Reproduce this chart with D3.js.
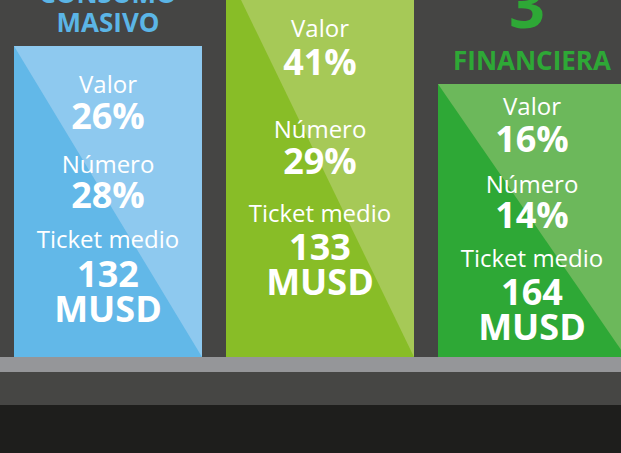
<!DOCTYPE html>
<html>
<head>
<meta charset="utf-8">
<script src="https://cdn.jsdelivr.net/npm/d3@7"></script>
<style>
  html, body { margin: 0; padding: 0; background: #454544; overflow: hidden; }
  svg { display: block; }
  text { font-family: "Open Sans", sans-serif; }
</style>
</head>
<body>
<svg id="chart" width="621" height="453"></svg>
<script>
// ---- data ----
const categories = ["Consumo masivo", "Sector 1", "Financiera"];
const podiumRank = [2, 1, 3];
const headerLines = [["CONSUMO", "MASIVO"], [], ["FINANCIERA"]];
const rankLabels = ["", "", "3"];
const valorPct = [26, 41, 16];
const numeroPct = [28, 29, 14];
const ticketMusd = [132, 133, 164];
const metricLabels = ["Valor", "Número", "Ticket medio"];
const unitLabel = "MUSD";

// ---- styles / layout ----
const W = 621, H = 453;
const colors = [
  { light: "#8ec9ef", dark: "#62b8e8", head: "#5bb5e6" },
  { light: "#a6c957", dark: "#88bd27", head: "#88bd27" },
  { light: "#6cb85b", dark: "#2ea836", head: "#2ea836" }
];
const floorY = 357;
// baseline offsets of the text rows, per bar (valor label, valor, numero label, numero, ticket label, ticket, unit)
const rowY = [
  [93, 129, 173, 208, 248, 287, 322],
  [37, 75, 138, 174, 222, 260, 295],
  [115, 152, 193, 228, 267, 305, 340]
];

const svg = d3.select("#chart");

const x = d3.scaleBand()
  .domain(categories)
  .range([14, 626])
  .paddingInner(24 / 212)
  .paddingOuter(0);

const topY = d3.scaleOrdinal().domain([1, 2, 3]).range([-31, 46, 84]);

const data = categories.map((c, i) => ({
  cat: c, rank: podiumRank[i], valor: valorPct[i], numero: numeroPct[i],
  ticket: ticketMusd[i], col: colors[i], rows: rowY[i], head: headerLines[i], rankLabel: rankLabels[i]
}));

// background bands
svg.append("rect").attr("x", 0).attr("y", 0).attr("width", W).attr("height", H).attr("fill", "#454544");
svg.append("rect").attr("x", 0).attr("y", floorY).attr("width", W).attr("height", 15).attr("fill", "#959699");
svg.append("rect").attr("x", 0).attr("y", floorY + 15).attr("width", W).attr("height", 33).attr("fill", "#464644");
svg.append("rect").attr("x", 0).attr("y", floorY + 48).attr("width", W).attr("height", H - floorY - 48).attr("fill", "#1e1e1c");

const g = svg.selectAll("g.bar").data(data).enter().append("g").attr("class", "bar");

// light bar
g.append("rect")
  .attr("x", d => x(d.cat))
  .attr("y", d => topY(d.rank))
  .attr("width", x.bandwidth())
  .attr("height", d => floorY - topY(d.rank))
  .attr("fill", d => d.col.light);

// dark triangle (lower-left)
g.append("path")
  .attr("d", d => {
    const x0 = x(d.cat), x1 = x0 + x.bandwidth(), t = topY(d.rank);
    return `M${x0},${t}L${x1},${floorY}L${x0},${floorY}Z`;
  })
  .attr("fill", d => d.col.dark);

const cx = d => x(d.cat) + x.bandwidth() / 2;

// headers
g.each(function(d) {
  const sel = d3.select(this);
  const t = topY(d.rank);
  if (d.rankLabel) {
    sel.append("text").attr("x", cx(d) - 5).attr("y", 28)
      .attr("text-anchor", "middle").attr("font-weight", 700).attr("font-size", 63)
      .attr("fill", d.col.head).text(d.rankLabel);
  }
  const n = d.head.length;
  d.head.forEach((line, k) => {
    sel.append("text").attr("x", cx(d)).attr("y", t - 14 - (n - 1 - k) * 29)
      .attr("text-anchor", "middle").attr("font-weight", 700).attr("font-size", 26)
      .attr("fill", d.col.head).text(line);
  });
});

// metric texts
const rows = d => [
  { t: metricLabels[0], b: false },
  { t: d.valor + "%", b: true },
  { t: metricLabels[1], b: false },
  { t: d.numero + "%", b: true },
  { t: metricLabels[2], b: false },
  { t: String(d.ticket), b: true },
  { t: unitLabel, b: true }
];

g.selectAll("text.m")
  .data(d => rows(d).map((r, k) => ({ ...r, x: cx(d), y: d.rows[k] })))
  .enter().append("text")
  .attr("class", "m")
  .attr("x", r => r.x)
  .attr("y", r => r.y)
  .attr("text-anchor", "middle")
  .attr("fill", "#ffffff")
  .attr("font-weight", r => r.b ? 700 : 400)
  .attr("font-size", r => r.b ? 36 : 24)
  .text(r => r.t);
</script>
</body>
</html>
